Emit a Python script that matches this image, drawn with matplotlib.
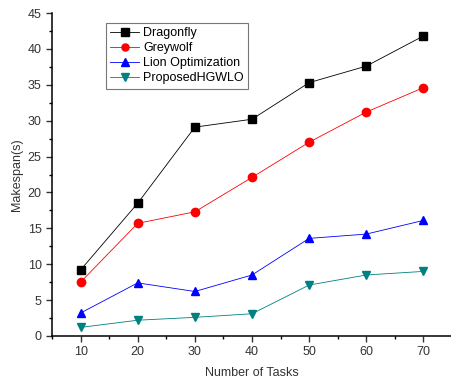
import matplotlib
matplotlib.use("Agg")
import matplotlib.pyplot as plt
from matplotlib.ticker import MultipleLocator

plt.rcParams["font.family"] = ["Liberation Sans", "DejaVu Sans"]

tasks = [10, 20, 30, 40, 50, 60, 70]
dragonfly = [9.2, 18.5, 29.1, 30.2, 35.3, 37.6, 41.8]
greywolf = [7.5, 15.7, 17.3, 22.1, 27.0, 31.2, 34.6]
lion = [3.2, 7.4, 6.2, 8.5, 13.6, 14.2, 16.1]
proposed = [1.2, 2.2, 2.6, 3.1, 7.1, 8.5, 9.0]

series = [
    ("Dragonfly", dragonfly, "black", "s"),
    ("Greywolf", greywolf, "red", "o"),
    ("Lion Optimization", lion, "blue", "^"),
    ("ProposedHGWLO", proposed, "#008080", "v"),
]

fig = plt.figure(figsize=(4.51, 3.81), dpi=100)
ax = fig.add_axes([52 / 451, 45 / 381, (452 - 52) / 451, (336 - 13) / 381])

for name, vals, col, mk in series:
    ax.plot(tasks, vals, color=col, lw=0.6, marker=mk, markersize=6,
            markerfacecolor=col, markeredgecolor=col, label=name)

ax.set_xlim(5, 75)
ax.set_ylim(0, 45)
ax.xaxis.set_major_locator(MultipleLocator(10))
ax.xaxis.set_minor_locator(MultipleLocator(5))
ax.yaxis.set_major_locator(MultipleLocator(5))
ax.yaxis.set_minor_locator(MultipleLocator(2.5))
ax.tick_params(which="major", direction="out", length=4, width=1, labelsize=9, colors="#333333")
ax.tick_params(which="minor", direction="out", length=2.5, width=1)
ax.spines["top"].set_visible(False)
ax.spines["right"].set_visible(False)
ax.spines["left"].set_linewidth(1.1)
ax.spines["bottom"].set_linewidth(1.1)

ax.set_xlabel("Number of Tasks", fontsize=9, color="#333333", labelpad=6)
ax.set_ylabel("Makespan(s)", fontsize=9, color="#333333", labelpad=3)

leg = ax.legend(loc="upper left", bbox_to_anchor=(0.135, 0.97), borderaxespad=0,
                fontsize=9, frameon=True, fancybox=False, edgecolor="#555555",
                handlelength=2.3, handletextpad=0.3, borderpad=0.35,
                labelspacing=0.25, markerscale=0.85)
leg.get_frame().set_linewidth(0.8)

fig.savefig("out.png", dpi=100)
